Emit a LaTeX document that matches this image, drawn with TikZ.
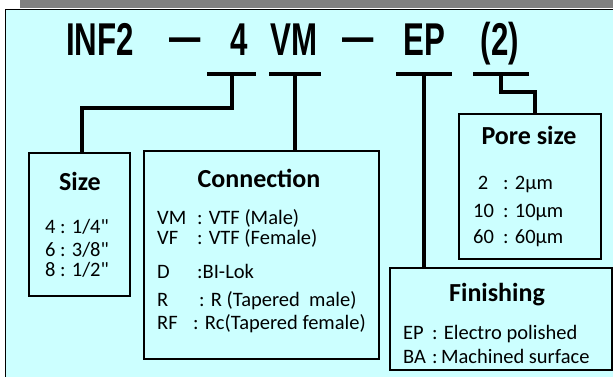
\documentclass[tikz,border=0pt]{standalone}
\usepackage{fontspec}
\usepackage{graphicx}
\setmainfont{Carlito}[Ligatures=TeXOff]
\newfontfamily\codefont{Liberation Sans}
\definecolor{panelcyan}{HTML}{CCFFFF}
\definecolor{bargray}{HTML}{808080}

\begin{document}
\begin{tikzpicture}[x=1bp, y=-1bp,
  box/.style={draw, line width=1.3bp, fill=panelcyan, inner sep=0pt},
  bar/.style={fill=black, inner sep=0pt, minimum height=4bp},
  link/.style={line width=4bp},
  code/.style={anchor=base, inner sep=0pt, font=\codefont\bfseries\fontsize{46bp}{50bp}\selectfont},
  head/.style={anchor=base, inner sep=0pt, font=\bfseries\fontsize{26bp}{30bp}\selectfont},
  row/.style={anchor=base west, inner sep=0pt, font=\fontsize{20.5bp}{24bp}\selectfont}]
\useasboundingbox (0,0) rectangle (613,376);
\fill[bargray] (20,0) rectangle (613,7.5);
\draw[line width=1bp, fill=panelcyan] (5.5,9.5) rectangle (620,380);

% part number
\node[code] (inf) at (100,55) {\scalebox{0.68}[1]{INF2}};
\node[code] (dash1) at (185,55) {\scalebox{0.68}[1]{\raisebox{3bp}{—}}};
\node[code] (four) at (239,55) {\scalebox{0.68}[1]{4}};
\node[code] (vm) at (294,55) {\scalebox{0.68}[1]{VM}};
\node[code] (dash2) at (358.5,55) {\scalebox{0.68}[1]{\raisebox{3bp}{—}}};
\node[code] (ep) at (424.5,55) {\scalebox{0.68}[1]{EP}};
\node[code] (pnum) at (500,55) {\scalebox{0.68}[1]{(2)}};

% bars under the code
\node[bar, minimum width=49bp] (b1) at (231.5,74) {};
\node[bar, minimum width=52bp] (b2) at (295,74) {};
\node[bar, minimum width=56bp] (b3) at (423.5,74) {};
\node[bar, minimum width=56bp] (b4) at (501,74) {};

% boxes
\node[box, minimum width=101bp, minimum height=143bp] (size) at (79.5,224.5) {};
\node[box, minimum width=235bp, minimum height=208bp] (cnx) at (261.5,255) {};
\node[box, minimum width=142bp, minimum height=145bp] (pore) at (530,186.5) {};
\node[box, minimum width=222bp, minimum height=102bp] (fin) at (501,319) {};

% connectors
\coordinate (k1) at (82,108);
\coordinate (k2) at (535,92);
\draw[link] (b1.center) |- (k1) -- (k1 |- size.north);
\draw[link] (b2.center) -- (b2 |- cnx.north);
\draw[link] (b3.center) -- (b3 |- fin.north);
\draw[link] (b4.center) |- (k2) -- (k2 |- pore.north);

% size
\node[head] (sizet) at (80,190) {Size};
\node[row] (s4) at (45,233.5) {4 : 1/4"};
\node[row] (s6) at (45,256.5) {6 : 3/8"};
\node[row] (s8) at (45,276.5) {8 : 1/2"};

% connection
\node[head] (cnxt) at (259,187) {Connection};
\node[row] (cvm) at (157,224.5) {\makebox[40bp][l]{VM}: VTF (Male)};
\node[row] (cvf) at (157,244) {\makebox[40bp][l]{VF}: VTF (Female)};
\node[row] (cd) at (157,278) {\makebox[40bp][l]{D}:BI-Lok};
\node[row] (cr) at (157,306.5) {\makebox[42bp][l]{R}: R (Tapered\ \ male)};
\node[row] (crf) at (157,329.5) {\makebox[36bp][l]{RF}: Rc(Tapered female)};

% pore size
\node[head] (poret) at (529,144) {Pore size};
\node[row] (p2) at (473,189.5) {\makebox[30bp][l]{\ 2}: 2µm};
\node[row] (p10) at (473,217.5) {\makebox[30bp][l]{10}: 10µm};
\node[row] (p60) at (473,243.5) {\makebox[30bp][l]{60}: 60µm};

% finishing
\node[head] (fint) at (497,301) {Finishing};
\node[row] (fep) at (403,339.5) {\makebox[29bp][l]{EP}: Electro polished};
\node[row] (fba) at (403,363.5) {\makebox[29bp][l]{BA}:\,Machined surface};
\end{tikzpicture}
\end{document}
